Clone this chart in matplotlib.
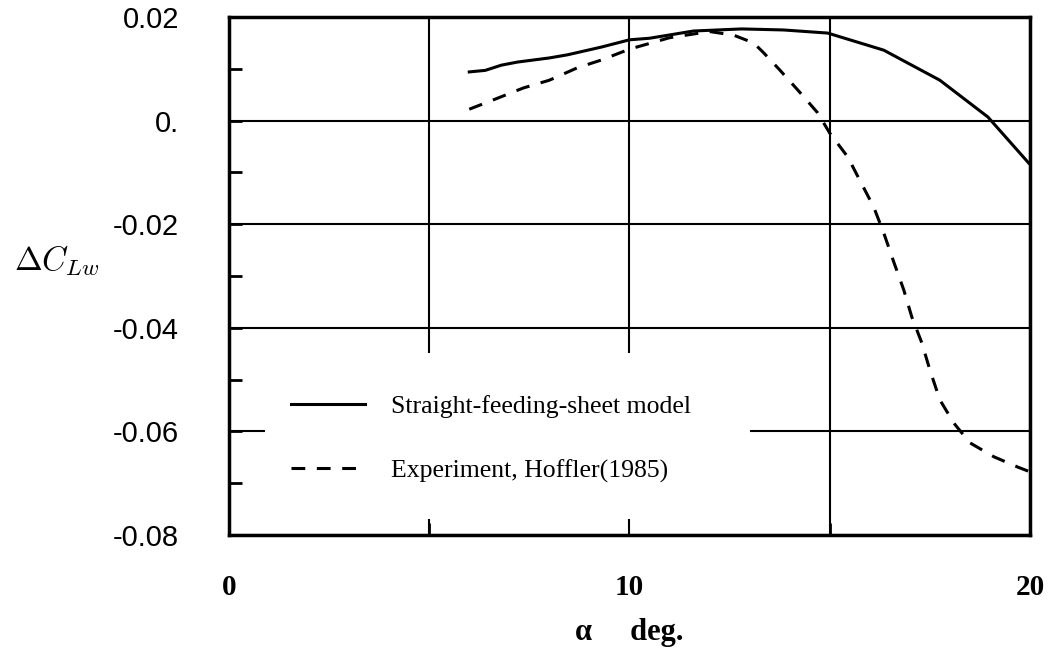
import matplotlib.pyplot as plt
from matplotlib.patches import Rectangle
from matplotlib.ticker import FixedLocator


"""
DATA (read off the scanned figure)
"""
# Straight-feeding-sheet model
alpha_model = [6.0, 6.4, 6.8, 7.2, 8.0, 8.45, 9.3, 10.0, 10.5, 11.6, 12.8,
               13.85, 14.95, 16.35, 17.75, 18.95, 19.97]
dcl_model = [0.0094, 0.0097, 0.0107, 0.0113, 0.0121, 0.0127, 0.0142, 0.0156,
             0.0159, 0.0173, 0.0177, 0.0175, 0.0169, 0.0136, 0.0078, 0.0007,
             -0.0082]

# Experiment, Hoffler (1985)
alpha_exp = [6.0, 6.6, 7.35, 8.0, 8.7, 9.3, 10.0, 11.0, 12.0, 12.6, 13.1,
             13.35, 13.75, 14.25, 14.7, 15.0, 15.45, 15.75, 16.1, 16.35, 16.6,
             16.85, 17.05, 17.3, 17.5, 17.75, 18.1, 18.5, 19.1, 19.7, 20.0]
dcl_exp = [0.0022, 0.0040, 0.0063, 0.0078, 0.0102, 0.0117, 0.0138, 0.0160,
           0.0172, 0.0165, 0.0150, 0.0131, 0.0098, 0.0055, 0.0015, -0.0024,
           -0.0070, -0.0115, -0.0167, -0.0217, -0.0273, -0.0327, -0.0379,
           -0.0429, -0.0481, -0.0539, -0.0584, -0.0622, -0.0649, -0.0669,
           -0.0678]

series_labels = ['Straight-feeding-sheet model', 'Experiment, Hoffler(1985)']

x_ticks = [0, 10, 20]
x_tick_labels = ['0', '10', '20']
x_grid = [5, 15]
y_ticks = [-0.08, -0.06, -0.04, -0.02, 0.0, 0.02]
y_tick_labels = ['-0.08', '-0.06', '-0.04', '-0.02', '0.', '0.02']
y_minor = [-0.07, -0.05, -0.03, -0.01, 0.01]


"""
PLOT
"""
plt.rcParams['mathtext.fontset'] = 'cm'

fig = plt.figure(figsize=(10.63, 6.57), dpi=100)
ax = fig.add_axes([0.2154, 0.1857, 0.7535, 0.7884])

ax.plot(alpha_model, dcl_model, color='black', lw=2.2, zorder=3,
        label=series_labels[0])
ax.plot(alpha_exp, dcl_exp, color='black', lw=2.2, ls=(0, (4.5, 3.8)),
        zorder=3, label=series_labels[1])

ax.set_xlim(0, 20)
ax.set_ylim(-0.08, 0.02)

# ticks + grid
ax.set_xticks(x_ticks)
ax.set_xticklabels(x_tick_labels, family='Liberation Serif',
                   fontweight='bold', fontsize=21)
ax.xaxis.set_minor_locator(FixedLocator(x_grid))
ax.set_yticks(y_ticks)
ax.set_yticklabels(y_tick_labels, family='Liberation Sans', fontsize=21)
ax.yaxis.set_minor_locator(FixedLocator(y_minor))

ax.tick_params(axis='both', which='both', direction='in', width=2,
               length=9, color='black')
ax.tick_params(axis='x', which='major', length=0, pad=28)
ax.tick_params(axis='y', which='major', pad=36)

ax.set_axisbelow(True)
ax.grid(True, which='major', axis='y', color='black', lw=1.5)
ax.grid(True, which='both', axis='x', color='black', lw=1.5)

for s in ax.spines.values():
    s.set_linewidth(2.5)

# blank area behind the legend (gridlines are cut there in the original)
ax.add_patch(Rectangle((0.045, 0.03), 0.605, 0.321, transform=ax.transAxes,
                       facecolor='white', edgecolor='none', zorder=1))

leg = ax.legend(loc='upper left', bbox_to_anchor=(0.064, 0.29),
                frameon=False, handlelength=2.9, handletextpad=1.0,
                labelspacing=1.6, borderaxespad=0,
                prop={'family': 'Liberation Serif', 'size': 18.5})

# axis labels
ax.set_xlabel('\u03b1     deg.', family='Liberation Serif', fontweight='bold',
              fontsize=22, labelpad=12)
ax.set_ylabel(r'$\Delta C_{Lw}$', fontsize=24, rotation=0,
              va='center', ha='center')
ax.yaxis.set_label_coords(-0.215, 0.53)

plt.savefig('out.png', dpi=100)
